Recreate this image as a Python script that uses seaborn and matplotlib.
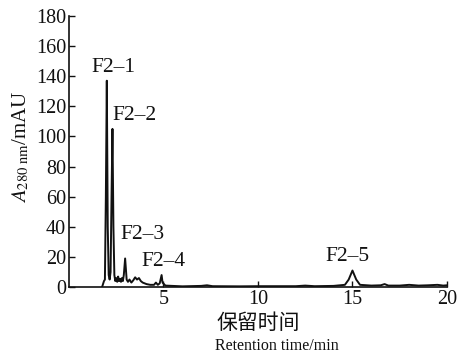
import matplotlib
matplotlib.use("Agg")
import matplotlib.pyplot as plt
import seaborn as sns
import pandas as pd

# Chromatogram trace
retention_time = [1.75, 1.80, 1.85, 1.90, 1.95, 2.00, 2.05, 2.10, 2.15, 2.20, 2.25, 2.30, 2.35,
                  2.40, 2.45, 2.50, 2.55, 2.60, 2.65, 2.70, 2.75, 2.80, 2.85, 2.90, 2.97,
                  3.05, 3.12, 3.20, 3.30, 3.40, 3.50, 3.60, 3.70, 3.80, 3.90, 4.00, 4.10,
                  4.30, 4.50, 4.60, 4.70, 4.80, 4.90, 4.95, 5.10, 6.00, 7.00,
                  7.30, 7.60, 9.00, 10.0, 12.0, 12.5, 13.0, 14.0, 14.6, 14.8, 15.0, 15.2,
                  15.4, 16.0, 16.5, 16.7, 16.9, 17.5, 18.0, 18.5, 19.0, 19.5, 19.8, 20.0]
absorbance = [0.0, 2.0, 4.0, 5.0, 60.0, 137.0, 40.0, 8.0, 5.0, 10.0, 60.0, 105.0, 40.0,
              8.0, 4.0, 6.0, 3.5, 7.0, 4.0, 5.5, 3.5, 6.0, 4.0, 8.0, 19.0,
              5.0, 3.5, 5.0, 3.0, 4.5, 6.5, 5.0, 6.0, 4.0, 3.0, 2.5, 2.0,
              1.5, 1.5, 3.0, 1.5, 2.5, 8.0, 3.0, 1.0, 0.5, 0.8,
              1.2, 0.6, 0.5, 0.6, 0.6, 1.0, 0.6, 0.8, 1.5, 5.0, 11.0, 5.0,
              1.5, 1.0, 1.2, 2.0, 1.0, 1.0, 1.5, 1.0, 1.2, 1.5, 1.0, 1.2]

peak_labels = ["F2–1", "F2–2", "F2–3", "F2–4", "F2–5"]
peak_label_x = [2.35, 3.45, 3.9, 5.0, 14.75]
peak_label_y = [146, 114, 35, 17, 20]

x_ticks = [5, 10, 15, 20]
y_ticks = [0, 20, 40, 60, 80, 100, 120, 140, 160, 180]

sns.set_style("ticks")
plt.rcParams["font.family"] = ["Liberation Serif", "Noto Sans CJK SC"]
plt.rcParams["mathtext.fontset"] = "stix"

df = pd.DataFrame({"t": retention_time, "a": absorbance})

fig = plt.figure(figsize=(4.57, 3.54), dpi=100)
ax = fig.add_axes([0.151, 0.189, 0.827, 0.766])
sns.lineplot(data=df, x="t", y="a", ax=ax, color="#111111", linewidth=1.4)

ax.set_xlim(0, 20)
ax.set_ylim(0, 180)
ax.set_xticks(x_ticks)
ax.set_yticks(y_ticks)
ax.tick_params(direction="in", length=4, width=1, labelsize=14.5, colors="#111111", pad=2)
for s in ["top", "right"]:
    ax.spines[s].set_visible(False)
for s in ["left", "bottom"]:
    ax.spines[s].set_linewidth(1.2)
    ax.spines[s].set_color("#111111")
ax.set_xlabel("")
ax.set_ylabel("")

for lab, x, y in zip(peak_labels, peak_label_x, peak_label_y):
    ax.text(x, y, lab, ha="center", va="center", fontsize=15.5, color="#111111")

fig.text(0.045, 0.585, r"$A_{\mathrm{280\ nm}}$/mAU", rotation=90, ha="center", va="center",
         fontsize=15, color="#111111")
fig.text(0.565, 0.088, "保留时间", ha="center", va="center", fontsize=15,
         family=["Noto Sans CJK SC"], color="#111111")
fig.text(0.605, 0.022, "Retention time/min", ha="center", va="center", fontsize=11.5,
         color="#111111")

fig.savefig("out.png", dpi=100)
